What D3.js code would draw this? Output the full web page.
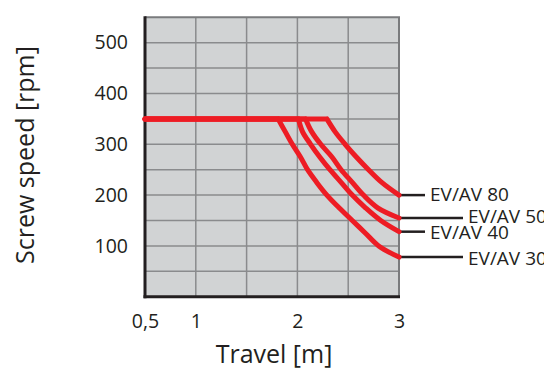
<!DOCTYPE html>
<html>
<head>
<meta charset="utf-8">
<script src="https://cdn.jsdelivr.net/npm/d3@7"></script>
<style>
  html, body { margin: 0; padding: 0; background: #fff; }
  svg { display: block; font-family: "Open Sans", "Noto Sans", sans-serif; }
</style>
</head>
<body>
<svg id="chart" width="544" height="370"></svg>
<script>
// Screw speed limit versus travel for each screw size
const seriesNames = ["EV/AV 30", "EV/AV 40", "EV/AV 50", "EV/AV 80"];

const travel30 = [0.5, 1.81, 1.88, 1.95, 2.03, 2.10, 2.19, 2.29, 2.41, 2.54, 2.67, 2.80, 3.0];
const speed30  = [350, 350, 325, 300, 275, 250, 225, 200, 175, 150, 125, 100, 78];

const travel40 = [0.5, 2.01, 2.05, 2.13, 2.22, 2.32, 2.43, 2.54, 2.67, 2.82, 3.0];
const speed40  = [350, 350, 325, 300, 275, 250, 225, 200, 175, 150, 128];

const travel50 = [0.5, 2.08, 2.14, 2.23, 2.34, 2.43, 2.54, 2.65, 2.79, 3.0];
const speed50  = [350, 350, 325, 300, 275, 250, 225, 200, 175, 155];

const travel80 = [0.5, 2.29, 2.37, 2.47, 2.58, 2.70, 2.83, 3.0];
const speed80  = [350, 350, 325, 300, 275, 250, 225, 200];

const xTickValues = [0.5, 1, 2, 3];
const xTickLabels = ["0,5", "1", "2", "3"];
const xGridValues = [1, 1.5, 2, 2.5];
const yTickValues = [100, 200, 300, 400, 500];
const yGridValues = [50, 100, 150, 200, 250, 300, 350, 400, 450, 500];

const xTitle = "Travel [m]";
const yTitle = "Screw speed [rpm]";

// label placement per series: leader length and text offset
const labelLayout = {
  "EV/AV 30": { leader: 64, dy: 8 },
  "EV/AV 40": { leader: 26, dy: 7 },
  "EV/AV 50": { leader: 64, dy: 5 },
  "EV/AV 80": { leader: 26, dy: 6 }
};

const seriesData = [
  { name: seriesNames[0], travel: travel30, speed: speed30 },
  { name: seriesNames[1], travel: travel40, speed: speed40 },
  { name: seriesNames[2], travel: travel50, speed: speed50 },
  { name: seriesNames[3], travel: travel80, speed: speed80 }
].map(s => ({ name: s.name, points: s.travel.map((t, i) => ({ x: t, y: s.speed[i] })) }));

const svg = d3.select("#chart");
const plotLeft = 145, plotRight = 399, plotTop = 17.3, plotBottom = 296.7;

const x = d3.scaleLinear().domain([0.5, 3]).range([plotLeft, plotRight]);
const y = d3.scaleLinear().domain([0, 550]).range([plotBottom, plotTop]);

// plot background
svg.append("rect")
  .attr("x", plotLeft).attr("y", plotTop)
  .attr("width", plotRight - plotLeft).attr("height", plotBottom - plotTop)
  .attr("fill", "#d1d3d4");

// grid
const grid = svg.append("g").attr("stroke", "#8a8b8d").attr("stroke-width", 1.5);
grid.selectAll(".gx").data(xGridValues).join("line")
  .attr("x1", d => x(d)).attr("x2", d => x(d))
  .attr("y1", plotTop).attr("y2", plotBottom);
grid.selectAll(".gy").data(yGridValues).join("line")
  .attr("x1", plotLeft).attr("x2", plotRight)
  .attr("y1", d => y(d)).attr("y2", d => y(d));

// top and right frame
svg.append("path")
  .attr("d", `M${plotLeft},${y(550)}H${x(3)}V${plotBottom}`)
  .attr("fill", "none").attr("stroke", "#7a7b7d").attr("stroke-width", 2);

// axes
const xAxis = d3.axisBottom(x).tickValues(xTickValues)
  .tickFormat((d, i) => xTickLabels[i]).tickSize(0).tickPadding(17);
const gx = svg.append("g").attr("transform", `translate(0,${plotBottom})`).call(xAxis);
gx.select(".domain").remove();
gx.selectAll("text").attr("font-size", 19.5).attr("fill", "#231f20")
  .attr("font-family", "Open Sans, sans-serif");

const yAxis = d3.axisLeft(y).tickValues(yTickValues).tickSize(0).tickPadding(17);
const gy = svg.append("g").attr("transform", `translate(${plotLeft},0)`).call(yAxis);
gy.select(".domain").remove();
gy.selectAll("text").attr("font-size", 19.5).attr("fill", "#231f20")
  .attr("font-family", "Open Sans, sans-serif");

svg.append("line")
  .attr("x1", plotLeft).attr("x2", plotLeft).attr("y1", plotTop - 1).attr("y2", plotBottom + 1.5)
  .attr("stroke", "#231f20").attr("stroke-width", 3);
svg.append("line")
  .attr("x1", plotLeft - 1.5).attr("x2", plotRight + 1).attr("y1", plotBottom).attr("y2", plotBottom)
  .attr("stroke", "#231f20").attr("stroke-width", 3);

// leader lines and series labels
const labels = svg.append("g");
seriesData.forEach(s => {
  const end = s.points[s.points.length - 1];
  const lay = labelLayout[s.name];
  const ex = x(end.x), ey = y(end.y);
  labels.append("line")
    .attr("x1", ex).attr("x2", ex + lay.leader)
    .attr("y1", ey).attr("y2", ey)
    .attr("stroke", "#231f20").attr("stroke-width", 2.5);
  labels.append("text")
    .attr("x", ex + lay.leader + 5).attr("y", ey + lay.dy)
    .attr("font-size", 19).attr("fill", "#231f20")
    .text(s.name);
});

// curves: flat section plus smooth falloff
const straight = d3.line().x(d => x(d.x)).y(d => y(d.y));
const smooth = d3.line().x(d => x(d.x)).y(d => y(d.y)).curve(d3.curveCatmullRom.alpha(0.5));
svg.append("g").selectAll("path").data(seriesData).join("path")
  .attr("d", d => straight(d.points.slice(0, 2)) + smooth(d.points.slice(1)))
  .attr("fill", "none")
  .attr("stroke", "#ed1c24")
  .attr("stroke-width", 5)
  .attr("stroke-linecap", "round")
  .attr("stroke-linejoin", "round");

// axis titles
svg.append("text")
  .attr("x", 274).attr("y", 363)
  .attr("text-anchor", "middle")
  .attr("font-size", 25).attr("fill", "#231f20")
  .text(xTitle);
svg.append("text")
  .attr("transform", `translate(34,155) rotate(-90)`)
  .attr("text-anchor", "middle")
  .attr("font-size", 25).attr("fill", "#231f20")
  .text(yTitle);
</script>
</body>
</html>
